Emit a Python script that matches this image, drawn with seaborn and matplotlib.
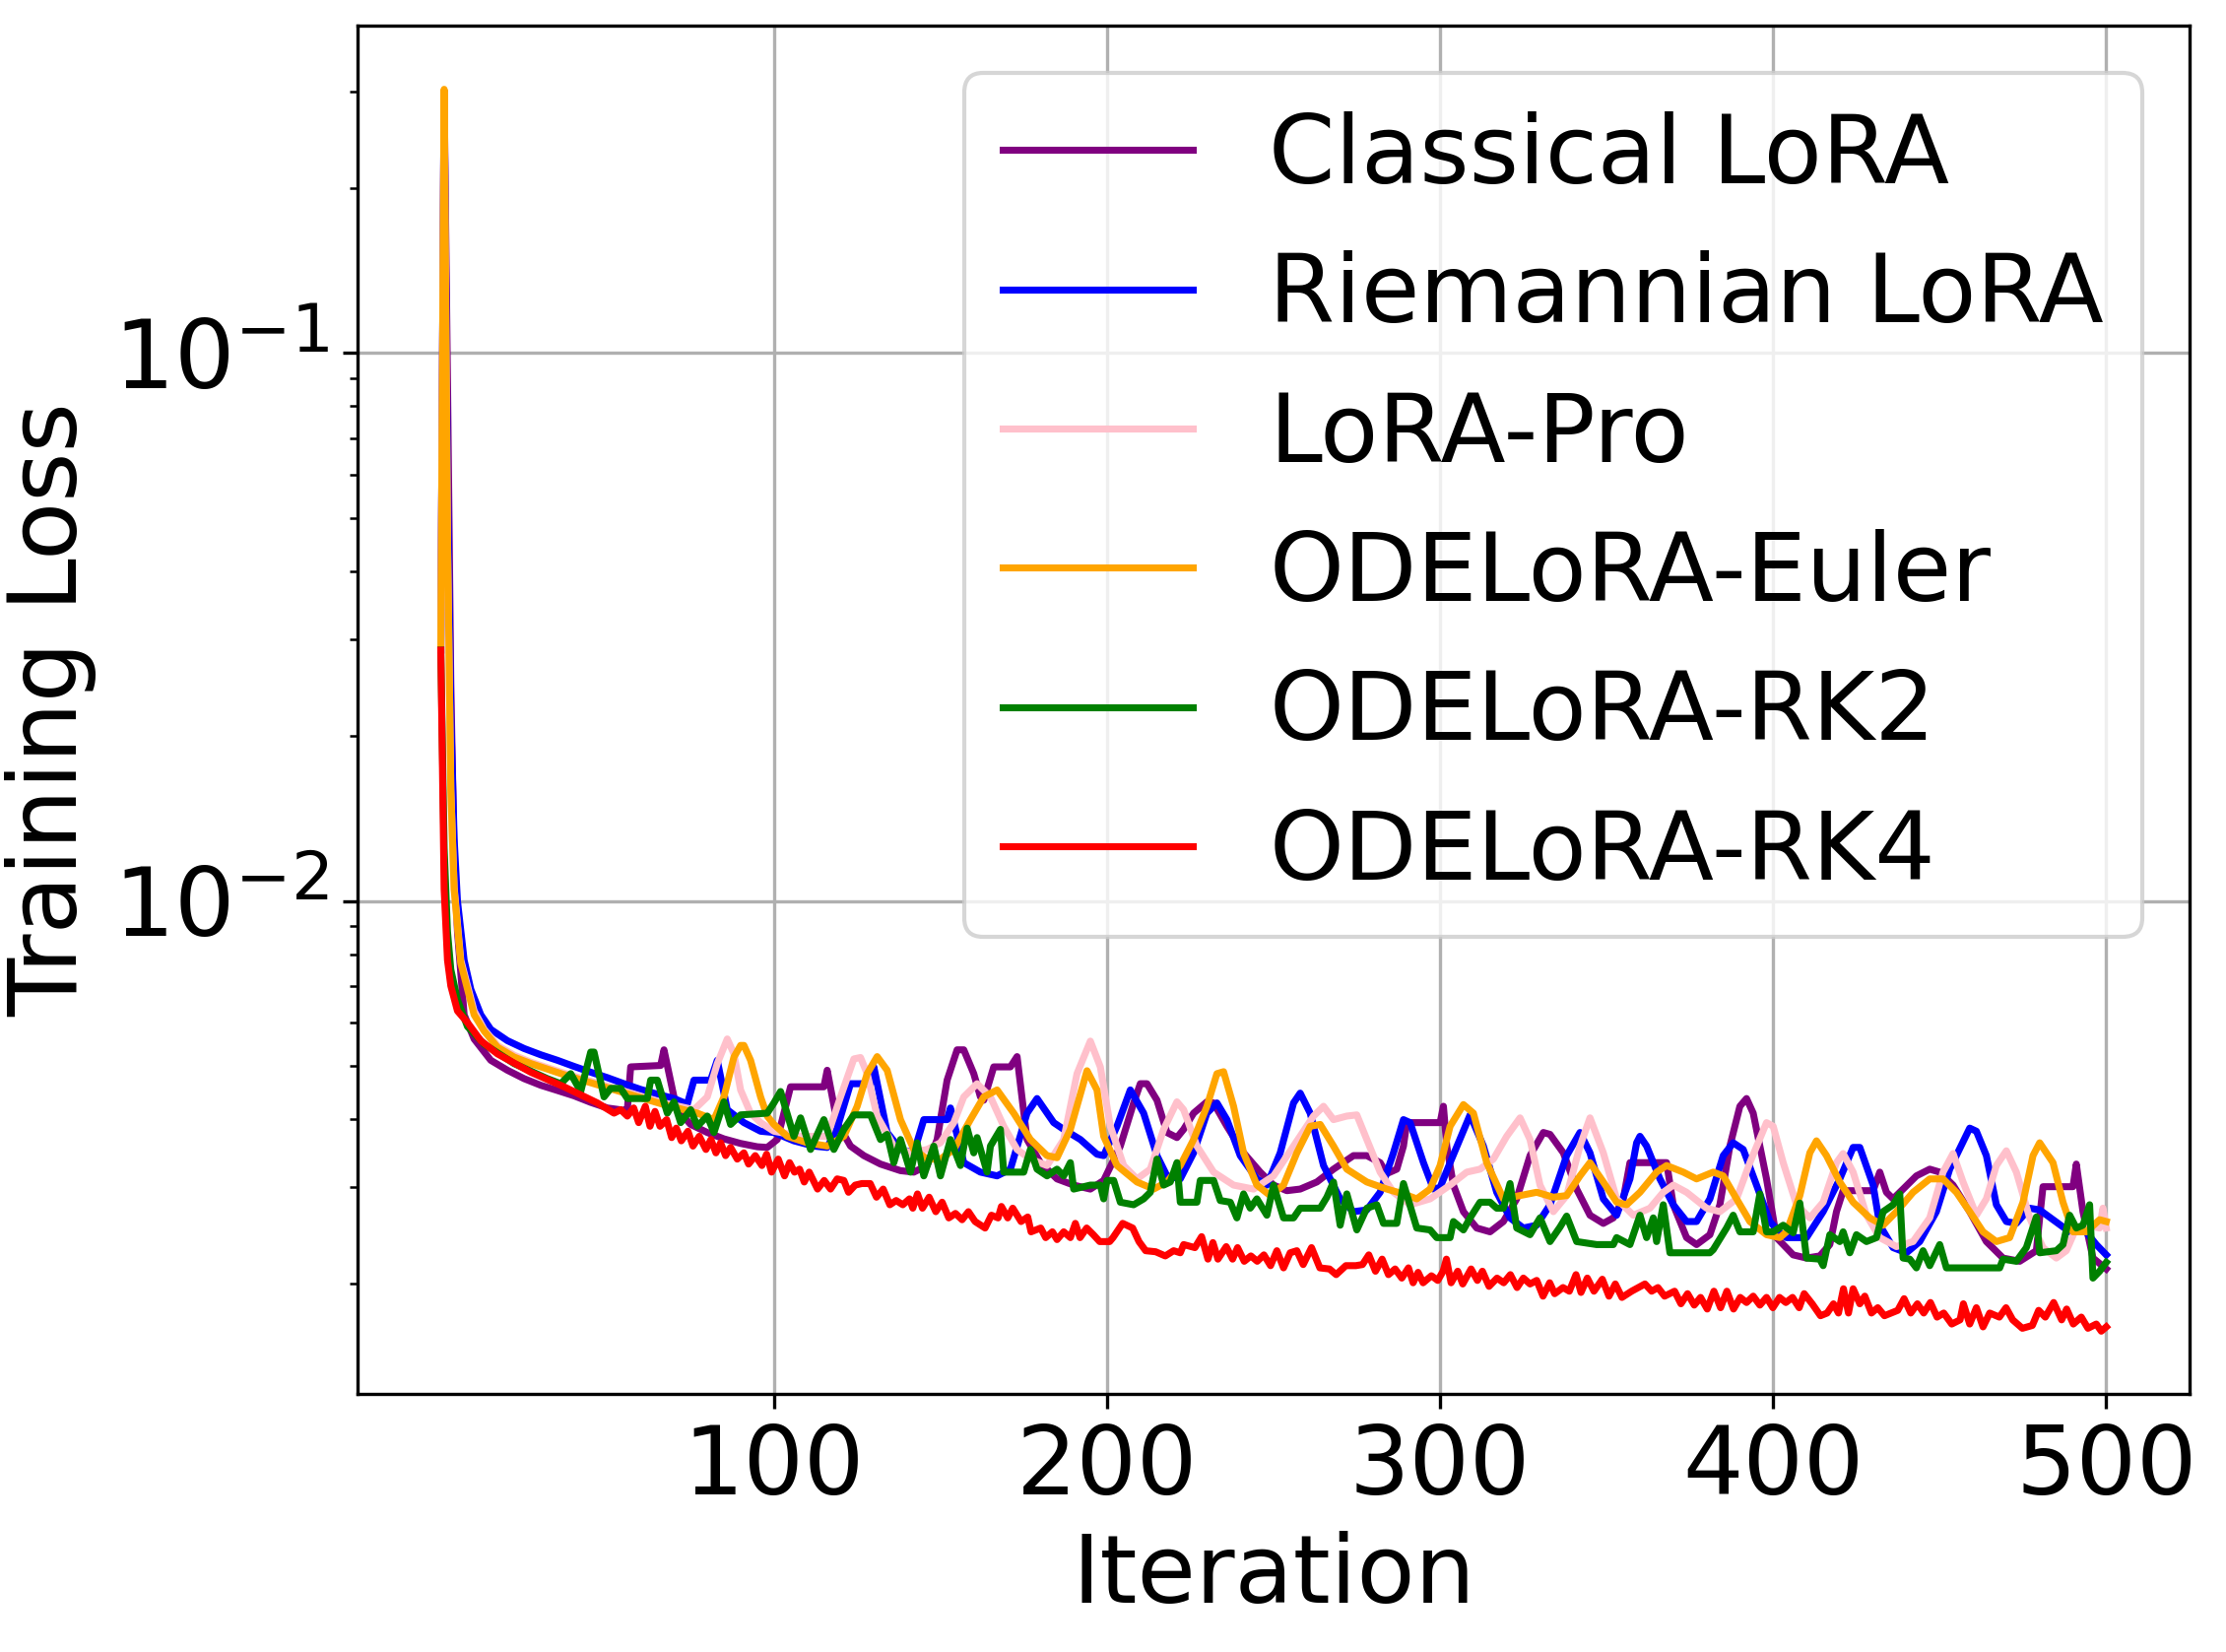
import matplotlib
matplotlib.use("Agg")
import matplotlib.pyplot as plt
import seaborn as sns
import pandas as pd

methods = ["Classical LoRA", "Riemannian LoRA", "LoRA-Pro",
           "ODELoRA-Euler", "ODELoRA-RK2", "ODELoRA-RK4"]
colors = ["purple", "blue", "pink", "orange", "green", "red"]
x_ticks = [100, 200, 300, 400, 500]

# (iteration, training loss)
classical_pts = [
    (0, 0.0287), (1, 0.30), (2, 0.09), (3, 0.025), (4, 0.012), (5, 0.0088), (7, 0.0062), (10, 0.0056),
    (15, 0.00512), (20, 0.00491), (25, 0.00474), (30, 0.00461), (35, 0.00451), (40, 0.00441),
    (45, 0.00429), (50, 0.00419), (55, 0.00415), (56, 0.00416), (57, 0.00498), (66, 0.00501),
    (67, 0.00535), (70, 0.00439), (72, 0.00410), (75, 0.00391), (80, 0.00378), (85, 0.00368),
    (90, 0.00361), (95, 0.00356), (98, 0.00355), (101, 0.00367), (103, 0.00410), (105, 0.00458),
    (115, 0.00458), (116, 0.00491), (119, 0.00394), (123, 0.00357), (127, 0.00343), (132, 0.00331),
    (138, 0.00322), (142, 0.00320), (146, 0.00329), (149, 0.00367), (152, 0.00471), (155, 0.00535),
    (157, 0.00535), (160, 0.00484), (162, 0.00439), (163, 0.00433), (166, 0.00498), (171, 0.00498),
    (173, 0.00520), (176, 0.00367), (180, 0.00333), (185, 0.00311), (190, 0.00303), (195, 0.00298),
    (199, 0.00309), (204, 0.00357), (208, 0.00428), (210, 0.00464), (212, 0.00464), (215, 0.00433),
    (218, 0.00378), (221, 0.00370), (223, 0.00383), (226, 0.00410), (230, 0.00430), (232, 0.00428),
    (236, 0.00388), (241, 0.00347), (246, 0.00320), (250, 0.00303), (254, 0.00296), (258, 0.00298),
    (263, 0.00307), (268, 0.00324), (274, 0.00343), (278, 0.00343), (282, 0.00333), (284, 0.00318),
    (287, 0.00324), (289, 0.00357), (290, 0.00394), (300, 0.00394), (301, 0.00422), (302, 0.00357),
    (304, 0.00303), (307, 0.00271), (311, 0.00253), (315, 0.00249), (319, 0.00260), (323, 0.00286),
    (327, 0.00343), (331, 0.00378), (333, 0.00375), (337, 0.00347), (341, 0.00298), (345, 0.00267),
    (349, 0.00258), (352, 0.00264), (355, 0.00286), (357, 0.00333), (368, 0.00333), (370, 0.00279),
    (374, 0.00243), (377, 0.00236), (381, 0.00246), (384, 0.00279), (387, 0.00357), (390, 0.00422),
    (392, 0.00436), (394, 0.00410), (398, 0.00311), (401, 0.00243), (406, 0.00226), (410, 0.00223),
    (414, 0.00225), (417, 0.00236), (419, 0.00271), (421, 0.00296), (430, 0.00296), (432, 0.00320),
    (434, 0.00294), (436, 0.00286), (439, 0.00298), (443, 0.00315), (447, 0.00324), (450, 0.00320),
    (454, 0.00303), (459, 0.00271), (464, 0.00239), (469, 0.00223), (474, 0.00220), (479, 0.00230),
    (480, 0.00264), (481, 0.00301), (490, 0.00301), (491, 0.00331), (493, 0.00271), (496, 0.00223),
    (500, 0.00213),
]

riemannian_pts = [
    (0, 0.0287), (1, 0.30), (2, 0.06), (3, 0.022), (4, 0.013), (5, 0.0100), (7, 0.0078), (9, 0.0069),
    (12, 0.0062), (15, 0.00583), (20, 0.00556), (25, 0.00538), (30, 0.00524), (35, 0.00512),
    (40, 0.00499), (45, 0.00487), (50, 0.00476), (55, 0.00464), (60, 0.00453), (65, 0.00444),
    (70, 0.00436), (74, 0.00426), (76, 0.00471), (81, 0.00471), (83, 0.00512), (86, 0.00416),
    (91, 0.00394), (96, 0.00380), (100, 0.00378), (106, 0.00365), (112, 0.00357), (116, 0.00355),
    (119, 0.00385), (123, 0.00464), (129, 0.00464), (130, 0.00498), (134, 0.00378), (138, 0.00352),
    (142, 0.00347), (145, 0.00399), (152, 0.00399), (153, 0.00419), (157, 0.00333), (162, 0.00320),
    (167, 0.00315), (171, 0.00324), (176, 0.00410), (179, 0.00436), (184, 0.00394), (187, 0.00383),
    (192, 0.00367), (197, 0.00345), (199, 0.00343), (203, 0.00388), (207, 0.00452), (211, 0.00410),
    (215, 0.00343), (218, 0.00315), (222, 0.00311), (226, 0.00347), (230, 0.00410), (233, 0.00428),
    (236, 0.00399), (240, 0.00343), (245, 0.00311), (248, 0.00303), (252, 0.00347), (256, 0.00428),
    (258, 0.00446), (261, 0.00410), (265, 0.00329), (270, 0.00286), (274, 0.00271), (278, 0.00273),
    (282, 0.00294), (286, 0.00347), (289, 0.00399), (291, 0.00394), (295, 0.00333), (298, 0.00298),
    (300, 0.00300), (303, 0.00333), (309, 0.00407), (313, 0.00357), (317, 0.00294), (321, 0.00264),
    (325, 0.00253), (329, 0.00256), (333, 0.00279), (338, 0.00343), (342, 0.00378), (345, 0.00347),
    (349, 0.00286), (353, 0.00267), (357, 0.00311), (359, 0.00362), (360, 0.00372), (362, 0.00357),
    (366, 0.00311), (370, 0.00279), (374, 0.00260), (377, 0.00260), (381, 0.00286), (385, 0.00343),
    (388, 0.00362), (391, 0.00352), (395, 0.00303), (399, 0.00260), (402, 0.00248), (404, 0.00243),
    (410, 0.00243), (415, 0.00271), (420, 0.00311), (424, 0.00355), (426, 0.00355), (430, 0.00303),
    (432, 0.00256), (436, 0.00233), (440, 0.00228), (444, 0.00239), (449, 0.00271), (453, 0.00324),
    (459, 0.00385), (461, 0.00380), (464, 0.00343), (467, 0.00279), (470, 0.00260), (473, 0.00258),
    (477, 0.00275), (480, 0.00273), (484, 0.00262), (489, 0.00249), (493, 0.00253), (497, 0.00236),
    (500, 0.00226),
]

lorapro_pts = [
    (0, 0.0287), (1, 0.30), (2, 0.046), (3, 0.016), (4, 0.0106), (6, 0.0078), (10, 0.0063),
    (13, 0.00583), (17, 0.00545), (22, 0.00523), (27, 0.00508), (37, 0.00485), (47, 0.00465),
    (57, 0.00446), (67, 0.00428), (76, 0.00416), (80, 0.00439), (83, 0.00505), (86, 0.00560),
    (88, 0.00526), (90, 0.00452), (93, 0.00410), (96, 0.00394), (100, 0.00380), (108, 0.00372),
    (116, 0.00372), (120, 0.00439), (124, 0.00515), (126, 0.00518), (128, 0.00484), (131, 0.00405),
    (136, 0.00357), (141, 0.00347), (146, 0.00352), (150, 0.00362), (154, 0.00394), (157, 0.00439),
    (161, 0.00464), (165, 0.00439), (169, 0.00388), (173, 0.00352), (177, 0.00338), (182, 0.00329),
    (187, 0.00367), (191, 0.00484), (195, 0.00555), (198, 0.00498), (201, 0.00388), (205, 0.00329),
    (209, 0.00311), (213, 0.00324), (217, 0.00383), (221, 0.00430), (223, 0.00416), (227, 0.00357),
    (232, 0.00320), (238, 0.00303), (244, 0.00298), (250, 0.00315), (256, 0.00357), (262, 0.00405),
    (265, 0.00422), (268, 0.00399), (272, 0.00405), (275, 0.00407), (278, 0.00367), (282, 0.00320),
    (286, 0.00294), (291, 0.00279), (297, 0.00286), (303, 0.00303), (308, 0.00320), (312, 0.00324),
    (316, 0.00338), (320, 0.00372), (324, 0.00402), (327, 0.00367), (330, 0.00303), (334, 0.00271),
    (338, 0.00290), (342, 0.00357), (345, 0.00402), (349, 0.00347), (353, 0.00286), (358, 0.00267),
    (363, 0.00275), (367, 0.00294), (370, 0.00303), (374, 0.00294), (380, 0.00275), (384, 0.00271),
    (389, 0.00286), (393, 0.00333), (398, 0.00394), (400, 0.00388), (403, 0.00333), (407, 0.00279),
    (411, 0.00264), (415, 0.00282), (419, 0.00333), (421, 0.00346), (424, 0.00320), (428, 0.00267),
    (432, 0.00243), (437, 0.00234), (442, 0.00239), (447, 0.00264), (451, 0.00320), (454, 0.00346),
    (457, 0.00307), (461, 0.00267), (464, 0.00286), (467, 0.00329), (470, 0.00350), (473, 0.00320),
    (477, 0.00264), (481, 0.00233), (485, 0.00223), (488, 0.00230), (491, 0.00253), (494, 0.00256),
    (498, 0.00253), (499, 0.00275), (500, 0.00253),
]

euler_pts = [
    (0, 0.0287), (1, 0.303), (2, 0.047), (3, 0.016), (4, 0.0105), (6, 0.0077), (10, 0.0062),
    (13, 0.00579), (17, 0.00541), (22, 0.00519), (27, 0.00505), (37, 0.00482), (47, 0.00462),
    (57, 0.00443), (67, 0.00425), (77, 0.00410), (82, 0.00399), (85, 0.00439), (88, 0.00519),
    (90, 0.00545), (91, 0.00545), (93, 0.00512), (96, 0.00439), (98, 0.00405), (100, 0.00391),
    (104, 0.00372), (110, 0.00362), (116, 0.00357), (121, 0.00372), (125, 0.00422), (128, 0.00484),
    (131, 0.00520), (134, 0.00491), (138, 0.00399), (142, 0.00352), (146, 0.00338), (150, 0.00338),
    (154, 0.00352), (159, 0.00399), (163, 0.00439), (167, 0.00452), (172, 0.00410), (177, 0.00367),
    (182, 0.00343), (185, 0.00340), (189, 0.00383), (194, 0.00490), (197, 0.00452), (199, 0.00372),
    (203, 0.00329), (209, 0.00307), (214, 0.00298), (218, 0.00307), (222, 0.00329), (226, 0.00367),
    (230, 0.00422), (233, 0.00484), (235, 0.00488), (238, 0.00422), (241, 0.00347), (245, 0.00303),
    (249, 0.00290), (253, 0.00303), (257, 0.00347), (261, 0.00388), (264, 0.00391), (268, 0.00357),
    (272, 0.00324), (278, 0.00307), (284, 0.00298), (289, 0.00292), (293, 0.00286), (297, 0.00298),
    (300, 0.00329), (303, 0.00388), (307, 0.00425), (310, 0.00410), (314, 0.00333), (319, 0.00286),
    (324, 0.00290), (329, 0.00294), (334, 0.00288), (338, 0.00290), (342, 0.00315), (345, 0.00333),
    (349, 0.00307), (353, 0.00282), (356, 0.00279), (360, 0.00294), (365, 0.00320), (368, 0.00329),
    (373, 0.00320), (377, 0.00311), (382, 0.00320), (385, 0.00315), (389, 0.00286), (393, 0.00260),
    (398, 0.00246), (402, 0.00243), (404, 0.00249), (408, 0.00290), (411, 0.00347), (413, 0.00365),
    (416, 0.00343), (420, 0.00307), (424, 0.00282), (429, 0.00264), (433, 0.00256), (437, 0.00271),
    (442, 0.00294), (447, 0.00311), (451, 0.00311), (455, 0.00294), (459, 0.00271), (463, 0.00249),
    (467, 0.00239), (471, 0.00243), (475, 0.00282), (478, 0.00343), (480, 0.00362), (484, 0.00333),
    (487, 0.00282), (490, 0.00249), (494, 0.00249), (498, 0.00262), (500, 0.00260),
]

rk2_pts = [
    (0, 0.0287), (1, 0.0125), (2, 0.0088), (3, 0.0075), (5, 0.0066), (8, 0.0059),
    (13, 0.00548), (22, 0.00505), (32, 0.00474), (36, 0.00464), (39, 0.00484), (42, 0.00449),
    (45, 0.00530), (46, 0.00530), (49, 0.00439), (51, 0.00455), (54, 0.00455), (56, 0.00436),
    (62, 0.00436), (63, 0.00471), (65, 0.00471), (68, 0.00410), (70, 0.00430), (72, 0.00394),
    (75, 0.00416), (77, 0.00388), (80, 0.00405), (82, 0.00378), (85, 0.00430), (87, 0.00391),
    (90, 0.00407), (98, 0.00410), (100, 0.00428), (102, 0.00449), (106, 0.00372), (108, 0.00402),
    (111, 0.00352), (115, 0.00399), (118, 0.00352), (121, 0.00383), (124, 0.00407), (129, 0.00407),
    (132, 0.00367), (134, 0.00375), (136, 0.00333), (138, 0.00367), (141, 0.00320), (143, 0.00362),
    (145, 0.00315), (148, 0.00357), (150, 0.00315), (153, 0.00367), (156, 0.00329), (158, 0.00385),
    (160, 0.00347), (161, 0.00370), (164, 0.00320), (165, 0.00357), (168, 0.00383), (169, 0.00320),
    (175, 0.00320), (177, 0.00352), (179, 0.00324), (182, 0.00315), (185, 0.00324), (187, 0.00315),
    (189, 0.00333), (190, 0.00298), (195, 0.00303), (198, 0.00303), (199, 0.00286), (200, 0.00309),
    (202, 0.00309), (204, 0.00282), (208, 0.00279), (211, 0.00286), (213, 0.00294), (215, 0.00338),
    (217, 0.00303), (219, 0.00307), (221, 0.00333), (222, 0.00282), (227, 0.00282), (228, 0.00309),
    (232, 0.00309), (234, 0.00284), (237, 0.00282), (239, 0.00264), (241, 0.00292), (243, 0.00275),
    (245, 0.00286), (248, 0.00267), (250, 0.00303), (253, 0.00264), (256, 0.00264), (258, 0.00275),
    (264, 0.00275), (266, 0.00288), (268, 0.00307), (270, 0.00256), (272, 0.00292), (275, 0.00251),
    (278, 0.00275), (281, 0.00279), (283, 0.00258), (287, 0.00258), (289, 0.00305), (293, 0.00253),
    (297, 0.00251), (299, 0.00243), (303, 0.00243), (304, 0.00260), (307, 0.00251), (309, 0.00264),
    (312, 0.00282), (315, 0.00282), (317, 0.00275), (319, 0.00275), (321, 0.00305), (323, 0.00253),
    (327, 0.00246), (330, 0.00264), (333, 0.00239), (336, 0.00254), (338, 0.00266), (341, 0.00239),
    (347, 0.00236), (352, 0.00236), (353, 0.00243), (357, 0.00236), (360, 0.00267), (362, 0.00243),
    (364, 0.00264), (365, 0.00239), (367, 0.00279), (369, 0.00228), (381, 0.00228), (382, 0.00231),
    (386, 0.00253), (388, 0.00267), (390, 0.00249), (394, 0.00249), (396, 0.00292), (398, 0.00249),
    (400, 0.00249), (403, 0.00256), (406, 0.00248), (408, 0.00281), (410, 0.00223), (414, 0.00222),
    (415, 0.00216), (417, 0.00246), (420, 0.00239), (421, 0.00249), (423, 0.00228), (425, 0.00246),
    (428, 0.00239), (431, 0.00243), (433, 0.00271), (436, 0.00279), (438, 0.00292), (439, 0.00223),
    (441, 0.00222), (443, 0.00214), (445, 0.00230), (447, 0.00216), (450, 0.00236), (452, 0.00214),
    (468, 0.00214), (469, 0.00222), (473, 0.00220), (476, 0.00233), (479, 0.00265), (480, 0.00228),
    (485, 0.00230), (487, 0.00236), (489, 0.00267), (491, 0.00253), (493, 0.00256), (495, 0.00279),
    (496, 0.00205), (498, 0.00211), (500, 0.00219),
]

rk4_pts = [
    (0, 0.0287), (1, 0.0105), (2, 0.0078), (3, 0.0070), (5, 0.0063), (8, 0.0060), (12, 0.00556),
    (17, 0.00526), (27, 0.00487), (37, 0.00458), (47, 0.00428), (52, 0.00410), (54, 0.00416),
    (56.0, 0.00405), (57.9, 0.00419), (59.4, 0.00394), (61.4, 0.00422), (62.8, 0.00388),
    (64.3, 0.00413), (65.8, 0.00388), (67.8, 0.00399), (69.3, 0.00370), (70.7, 0.00385),
    (72.2, 0.00365), (74.2, 0.00380), (75.7, 0.00357), (77.6, 0.00372), (79.6, 0.00352),
    (81.1, 0.00367), (82.6, 0.00347), (84.0, 0.00362), (85.5, 0.00343), (87.0, 0.00355),
    (89.0, 0.00338), (91.0, 0.00347), (92.4, 0.00331), (94.4, 0.00343), (96.4, 0.00329),
    (97.8, 0.00345), (99.3, 0.00320), (101.3, 0.00338), (103.2, 0.00315), (104.7, 0.00333),
    (106.2, 0.00320), (107.7, 0.00324), (109.1, 0.00307), (110.6, 0.00320), (113.1, 0.00298),
    (115.1, 0.00309), (117.0, 0.00298), (119.0, 0.00311), (121.0, 0.00309), (122.4, 0.00294),
    (124.4, 0.00303), (126.4, 0.00305), (128.9, 0.00305), (130.8, 0.00288), (132.8, 0.00298),
    (134.8, 0.00279), (136.7, 0.00284), (138.7, 0.00279), (140.7, 0.00286), (141.7, 0.00275),
    (143.1, 0.00292), (144.6, 0.00275), (146.6, 0.00288), (148.6, 0.00271), (150.5, 0.00282),
    (152.5, 0.00264), (154.5, 0.00269), (156.5, 0.00262), (158.4, 0.00271), (160.4, 0.00260),
    (163.4, 0.00253), (165.3, 0.00267), (167.3, 0.00264), (168.3, 0.00277), (170.2, 0.00264),
    (171.7, 0.00275), (174.2, 0.00260), (176.2, 0.00265), (177.2, 0.00249), (180.1, 0.00253),
    (181.6, 0.00243), (183.6, 0.00249), (185.0, 0.00241), (187.0, 0.00249), (189.0, 0.00243),
    (190.5, 0.00258), (191.9, 0.00243), (193.9, 0.00253), (195.9, 0.00246), (197.8, 0.00239),
    (200.8, 0.00239), (201.8, 0.00243), (204.7, 0.00258), (207.7, 0.00253), (209.6, 0.00239),
    (211.6, 0.00230), (214.6, 0.00229), (217.5, 0.00225), (220.0, 0.00230), (222.0, 0.00228),
    (223.0, 0.00236), (226.4, 0.00233), (228.4, 0.00244), (230.3, 0.00222), (231.8, 0.00238),
    (233.3, 0.00222), (235.8, 0.00234), (237.7, 0.00222), (239.2, 0.00233), (241.2, 0.00220),
    (243.2, 0.00225), (245.1, 0.00220), (247.1, 0.00226), (249.1, 0.00216), (251.0, 0.00230),
    (253.0, 0.00214), (255.0, 0.00228), (257.0, 0.00230), (258.9, 0.00217), (261.4, 0.00233),
    (263.9, 0.00214), (266.8, 0.00213), (268.8, 0.00208), (271.7, 0.00216), (274.7, 0.00216),
    (276.7, 0.00217), (278.6, 0.00226), (280.6, 0.00211), (282.6, 0.00222), (284.5, 0.00208),
    (286.5, 0.00213), (288.5, 0.00205), (290.5, 0.00214), (291.9, 0.00201), (293.4, 0.00210),
    (294.9, 0.00201), (297.4, 0.00207), (299.3, 0.00203), (300.9, 0.00211), (301.9, 0.00222),
    (303.3, 0.00201), (305.3, 0.00211), (306.8, 0.00200), (309.3, 0.00213), (311.2, 0.00203),
    (312.7, 0.00211), (314.7, 0.00198), (317.1, 0.00205), (319.1, 0.00201), (321.1, 0.00208),
    (323.1, 0.00197), (325.0, 0.00205), (327.0, 0.00200), (329.0, 0.00203), (330.9, 0.00190),
    (332.9, 0.00201), (334.4, 0.00192), (336.9, 0.00197), (338.8, 0.00194), (340.8, 0.00208),
    (342.3, 0.00193), (344.2, 0.00205), (346.2, 0.00194), (348.7, 0.00204), (350.7, 0.00190),
    (352.6, 0.00200), (354.6, 0.00189), (357.5, 0.00194), (359.5, 0.00197), (361.5, 0.00200),
    (363.5, 0.00194), (365.4, 0.00197), (367.4, 0.00190), (370.4, 0.00194), (372.3, 0.00184),
    (374.3, 0.00192), (376.3, 0.00183), (378.2, 0.00189), (380.2, 0.00180), (382.2, 0.00194),
    (384.2, 0.00181), (386.1, 0.00194), (388.1, 0.00180), (390.1, 0.00189), (392.0, 0.00185),
    (394.0, 0.00190), (396.0, 0.00183), (398.0, 0.00189), (399.9, 0.00181), (401.9, 0.00189),
    (403.8, 0.00185), (405.8, 0.00189), (407.8, 0.00181), (409.3, 0.00192), (411.7, 0.00184),
    (414.2, 0.00175), (416.2, 0.00177), (418.1, 0.00184), (419.6, 0.00177), (421.1, 0.00196),
    (422.6, 0.00177), (424.0, 0.00196), (426.0, 0.00184), (427.5, 0.00190), (429.5, 0.00177),
    (431.4, 0.00181), (433.4, 0.00175), (437.4, 0.00179), (439.3, 0.00188), (441.3, 0.00177),
    (443.3, 0.00184), (445.2, 0.00177), (447.2, 0.00185), (449.2, 0.00174), (451.2, 0.00177),
    (453.6, 0.00169), (456.1, 0.00172), (457.1, 0.00184), (459.0, 0.00169), (461.0, 0.00181),
    (463.0, 0.00167), (465.0, 0.00177), (467.9, 0.00174), (469.9, 0.00181), (471.9, 0.00172),
    (474.8, 0.00166), (477.8, 0.00168), (479.7, 0.00179), (481.7, 0.00174), (484.2, 0.00185),
    (486.6, 0.00172), (488.1, 0.00180), (490.1, 0.00169), (492.5, 0.00174), (494.5, 0.00166),
    (497.0, 0.00169), (498.5, 0.00164), (500.0, 0.00167),
]

series = [classical_pts, riemannian_pts, lorapro_pts, euler_pts, rk2_pts, rk4_pts]

frames = []
for name, pts in zip(methods, series):
    xs, ys = zip(*pts)
    frames.append(pd.DataFrame({"Iteration": xs, "Training Loss": ys, "Method": name}))
df = pd.concat(frames, ignore_index=True)

FS = 23.2
LW = 1.7
W, H, DPI = 2260, 1677, 300
fig = plt.figure(figsize=(W / DPI, H / DPI), dpi=DPI)
ax = fig.add_axes([363 / W, 1 - 1415 / H, (2223 - 363) / W, (1415 - 26) / H])

sns.lineplot(data=df, x="Iteration", y="Training Loss", hue="Method",
             hue_order=methods, palette=dict(zip(methods, colors)),
             estimator=None, sort=True, linewidth=LW, ax=ax)

ax.set_yscale("log")
ax.set_ylim(0.00126, 0.396)
ax.set_xlim(-25, 525)
ax.set_xticks(x_ticks)
ax.grid(True, color="#b0b0b0", linewidth=0.8)
ax.set_axisbelow(True)
ax.tick_params(labelsize=FS)
ax.set_xlabel("Iteration", fontsize=FS)
ax.set_ylabel("Training Loss", fontsize=FS)

leg = ax.get_legend()
handles = list(leg.legend_handles)
labels = [t.get_text() for t in leg.get_texts()]
for h in handles:
    h.set_linewidth(LW)
ax.legend(handles, labels, loc="upper right", fontsize=FS)

fig.savefig("out.png", dpi=DPI)
